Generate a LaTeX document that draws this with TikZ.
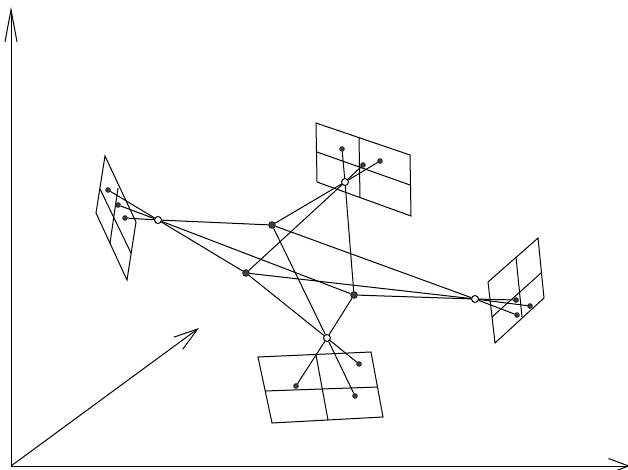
\documentclass[tikz,border=0pt]{standalone}
\usetikzlibrary{arrows.meta}

\tikzset{
  pupil/.style={circle,draw,fill=white,line width=1pt,inner sep=0pt,minimum size=7pt},
  point/.style={circle,draw=black!85,fill=black!75,inner sep=0pt,minimum size=6.5pt},
  image/.style={circle,draw=black!85,fill=black!75,inner sep=0pt,minimum size=4.5pt},
}

\begin{document}
\begin{tikzpicture}[x=1pt,y=-1pt,line width=1pt]

        \useasboundingbox (0,0) rectangle (628,470);

        % axes
        \coordinate (o) at (11,466);
        \coordinate (xtip) at (630,466);
        \coordinate (ytip) at (11,7);
        \coordinate (ztip) at (199,328);
        \draw[-{Straight Barb[length=20pt,width=15pt]}] (o) -- (xtip);
        \draw[-{Straight Barb[length=32pt,width=12pt]}] (o) -- (ytip);
        \draw[-{Straight Barb[length=24pt,width=15pt]}] (o) -- (ztip);

        % image planes
        \draw (105,156) -- (136,222) -- (127,280) -- (96,213) -- cycle;
        \draw (100,189) -- (131,253);
        \draw (118,188) -- (110,243);

        \draw (316,123) -- (410,155) -- (411,216) -- (317,182) -- cycle;
        \draw (317,152) -- (410,185);
        \draw (359,137) -- (360,198);

        \draw (538,238) -- (544,298) -- (495,343) -- (488,282) -- cycle;
        \draw (541,273) -- (492,317);
        \draw (516,257) -- (522,317);

        \draw (258,357) -- (371,352) -- (383,417) -- (272,423) -- cycle;
        \draw (265,391) -- (378,387);
        \draw (316,355) -- (328,420);

        \begin{scope}[every node/.style={point}]
          \node (a) at (272,225) {};
          \node (c) at (246,273) {};
          \node (d) at (354,295) {};
        \end{scope}

        \begin{scope}[every node/.style={pupil}]
          \node (l) at (158,220) {};
          \node (t) at (345,182) {};
          \node (r) at (475,299) {};
          \node (b) at (327,338) {};
        \end{scope}

        \begin{scope}[every node/.style={image}]
          \node (la) at (125,218) {};
          \node (lc) at (108,190) {};
          \node (ld) at (118,205) {};
          \node (ta) at (380,161) {};
          \node (tc) at (363,165) {};
          \node (td) at (342,149) {};
          \node (ra) at (517,315) {};
          \node (rc) at (530,306) {};
          \node (rd) at (516,300) {};
          \node (ba) at (355,396) {};
          \node (bc) at (359,364) {};
          \node (bd) at (296,386) {};
        \end{scope}

        \begin{scope}[every edge/.style={draw}]
          \foreach \v in {l,t,r,b} {
            \foreach \p in {a,c,d} {
              \path (\v) edge (\p);
              \path (\v) edge (\v\p);
            }
          }
        \end{scope}

      \end{tikzpicture}
\end{document}
